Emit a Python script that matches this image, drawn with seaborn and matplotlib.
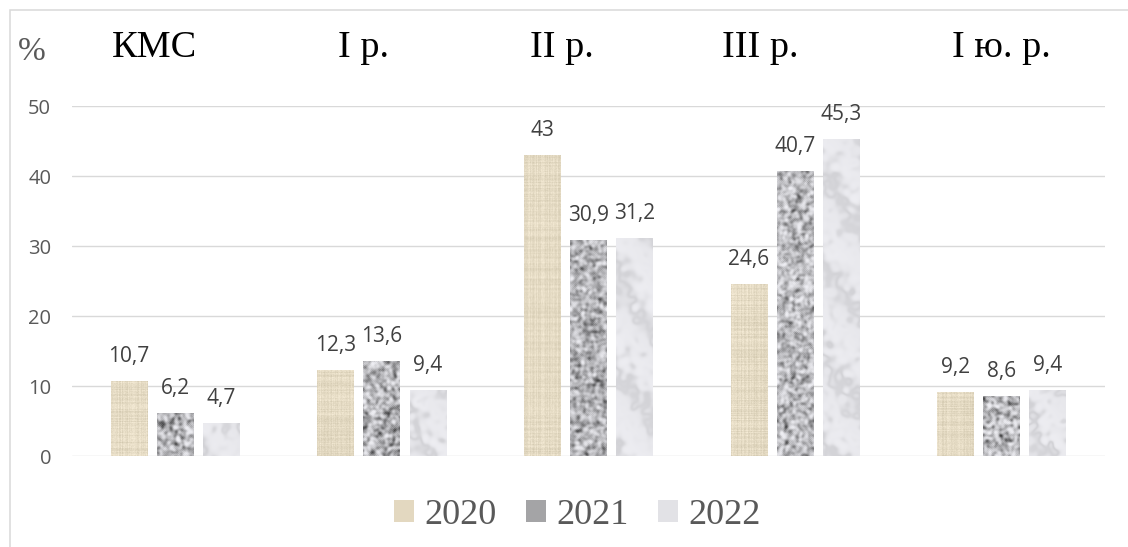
import numpy as np
import pandas as pd
import matplotlib
matplotlib.use("Agg")
import matplotlib.pyplot as plt
import matplotlib.transforms as mtransforms
from matplotlib.patches import Rectangle, Patch
import seaborn as sns

# Data
categories = ["КМС", "I р.", "II р.", "III р.", "I ю. р."]
years = ["2020", "2021", "2022"]
values_2020 = [10.7, 12.3, 43.0, 24.6, 9.2]
values_2021 = [6.2, 13.6, 30.9, 40.7, 8.6]
values_2022 = [4.7, 9.4, 31.2, 45.3, 9.4]

df = pd.DataFrame({
    "cat": categories * 3,
    "year": [y for y in years for _ in categories],
    "val": values_2020 + values_2021 + values_2022,
})

sns.set_style("white")
plt.rcParams["font.family"] = ["Open Sans", "DejaVu Sans"]
SERIF = ["Liberation Serif", "DejaVu Serif"]

# flat colours (used for legend swatches); bars get a texture on top
palette = {"2020": "#E3D8C0", "2021": "#A4A4A6", "2022": "#E2E2E6"}


# --- textures (purely decorative fill, deterministic hash noise) ---
def hash_noise(h, w, seed):
    yy, xx = np.mgrid[0:h, 0:w]
    v = np.sin(xx * 12.9898 + yy * 78.233 + seed * 37.719) * 43758.5453
    return v - np.floor(v)


def blur(a, n):
    for _ in range(n):
        a = (a + np.roll(a, 1, 0) + np.roll(a, -1, 0) + np.roll(a, 1, 1) + np.roll(a, -1, 1)) / 5
    return a


def norm(a):
    return (a - a.min()) / (a.max() - a.min() + 1e-9)


def burlap(h, w, seed):
    rows = hash_noise(h, 1, seed)
    cols = hash_noise(1, w, seed + 3)
    fine = hash_noise(h, w, seed + 7)
    base = np.array([229, 219, 196], float)
    shade = 14 * (rows - 0.5) + 14 * (cols - 0.5) + 10 * (fine - 0.5)
    img = base[None, None, :] + shade[:, :, None] * np.array([1.0, 1.0, 1.1])
    return np.clip(img, 0, 255) / 255


def granite(h, w, seed):
    a = norm(blur(hash_noise(h, w, seed), 4))
    b = norm(blur(hash_noise(h, w, seed + 11), 8))
    m = norm(0.65 * a + 0.35 * b)
    g = 238 - 165 * m ** 1.6
    img = np.stack([g, g, g * 1.02], axis=-1)
    return np.clip(img, 0, 255) / 255


def marble(h, w, seed):
    yy, xx = np.mgrid[0:h, 0:w]
    n = norm(blur(hash_noise(h, w, seed), 20))
    vein = np.exp(-np.sin((xx - 0.7 * yy) * 0.05 + 2.5 * n) ** 2 * 2.5)
    g = 236 - 24 * vein + 8 * (n - 0.5)
    img = np.stack([g, g, g * 1.01 + 2], axis=-1)
    return np.clip(img, 0, 255) / 255


textures = {0: burlap, 1: granite, 2: marble}

fig = plt.figure(figsize=(11.28, 5.47), dpi=100)
ax = fig.add_axes([72 / 1128, 91 / 547, 1033 / 1128, 350 / 547])
ax.patch.set_alpha(0)

sns.barplot(data=df, x="cat", y="val", hue="year", order=categories, hue_order=years,
            palette=palette, width=0.67, gap=0.2, legend=False, ax=ax)

ax.set_ylim(0, 50)
ax.set_yticks(range(0, 51, 10))
xlim = ax.get_xlim()

for i, cont in enumerate(ax.containers):
    for j, bar in enumerate(cont):
        x0, w, h = bar.get_x(), bar.get_width(), bar.get_height()
        hp, wp = max(int(h * 7) + 1, 2), 37
        tex = textures[i](hp, wp, 10 * i + j + 1)
        im = ax.imshow(tex, extent=[x0, x0 + w, 0, h], aspect="auto",
                       interpolation="bilinear", zorder=bar.get_zorder() + 0.1)
        im.set_clip_path(bar)
        bar.set_edgecolor("none")
        lab = f"{h:g}".replace(".", ",")
        ax.annotate(lab, (x0 + w / 2, h), xytext=(0, 17.5), textcoords="offset points",
                    ha="center", va="center", fontsize=15, color="#404040")

ax.set_xlim(xlim)
ax.set_ylim(0, 50)
ax.set_aspect("auto")
ax.set_axisbelow(True)
ax.yaxis.grid(True, color="#D9D9D9", linewidth=1.0)
ax.xaxis.grid(False)
ax.set_xticks([])
ax.set_xlabel("")
ax.set_ylabel("")
ax.tick_params(axis="y", length=0, pad=15, labelsize=14.5, labelcolor="#595959")
sns.despine(ax=ax, left=True, bottom=True)

# outer chart border (cropped on the right and bottom)
fig.patches.append(Rectangle((10 / 1128, -0.1), 1.2, 1 - 10 / 547 + 0.1, transform=fig.transFigure,
                             fill=False, edgecolor="#D9D9D9", linewidth=1.1, zorder=1))

# category captions on top, in white boxes
label_shift = [-0.10, -0.09, -0.13, -0.17, 0.0]
trans = mtransforms.blended_transform_factory(ax.transData, fig.transFigure)
for k, (cat, s) in enumerate(zip(categories, label_shift)):
    ax.text(k + s, 1 - 57 / 547, cat, transform=trans, ha="center", va="baseline",
            fontsize=27.5, family=SERIF, color="black",
            bbox=dict(boxstyle="square,pad=0.7", facecolor="white", edgecolor="none"))

fig.text(18 / 1128, 1 - 60 / 547, "%", ha="left", va="baseline", fontsize=24,
         family=SERIF, color="#595959")

handles = [Patch(facecolor=palette[y], edgecolor="none") for y in years]
fig.legend(handles, years, loc="center", bbox_to_anchor=(0.512, 0.058), ncol=3, frameon=False,
           prop={"family": SERIF, "size": 26}, labelcolor="#595959",
           handlelength=0.55, handleheight=0.55, handletextpad=0.3, columnspacing=0.8)

fig.savefig("out.png", dpi=100)
